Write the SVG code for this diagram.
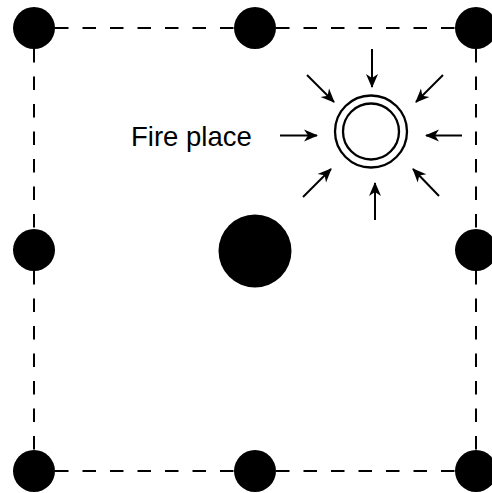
<svg xmlns="http://www.w3.org/2000/svg" width="492" height="493" viewBox="0 0 492 493">
  <style>
    .post { fill: #000; }
    .dash { stroke: #000; stroke-width: 2; stroke-dasharray: 13.5 14; fill: none; }
    .ring { fill: none; stroke: #000; stroke-width: 2.3; }
    .arrow { stroke: #000; stroke-width: 2; fill: none; marker-end: url(#head); }
    .label { font-family: "Liberation Sans", Arial, sans-serif; font-size: 27.5px; fill: #000; }
  </style>
  <defs>
    <marker id="head" markerUnits="userSpaceOnUse" viewBox="-15 -8 17 16" refX="0" refY="0" markerWidth="17" markerHeight="16" orient="auto">
      <path d="M1,0 L-13,-6 L-9,0 L-13,6 Z" fill="#000"/>
    </marker>
  </defs>
  <rect width="492" height="493" fill="#fff"/>
  <g id="connectors">
    <line class="dash" x1="55" y1="28" x2="234" y2="28"/>
    <line class="dash" x1="276" y1="28" x2="455" y2="28"/>
    <line class="dash" x1="55" y1="471" x2="234" y2="471"/>
    <line class="dash" x1="276" y1="471" x2="455" y2="471"/>
    <line class="dash" x1="34" y1="49" x2="34" y2="229"/>
    <line class="dash" x1="34" y1="271" x2="34" y2="450"/>
    <line class="dash" x1="476" y1="49" x2="476" y2="229"/>
    <line class="dash" x1="476" y1="271" x2="476" y2="450"/>
  </g>
  <g id="post-tl"><circle class="post" cx="34" cy="28" r="21"/></g>
  <g id="post-tm"><circle class="post" cx="255" cy="28" r="21"/></g>
  <g id="post-tr"><circle class="post" cx="476" cy="28" r="21"/></g>
  <g id="post-ml"><circle class="post" cx="34" cy="250" r="21"/></g>
  <g id="post-center"><circle class="post" cx="255" cy="251" r="36.5"/></g>
  <g id="post-mr"><circle class="post" cx="476" cy="250" r="21"/></g>
  <g id="post-bl"><circle class="post" cx="34" cy="471" r="21"/></g>
  <g id="post-bm"><circle class="post" cx="255" cy="471" r="21"/></g>
  <g id="post-br"><circle class="post" cx="476" cy="471" r="21"/></g>
  <g id="fireplace">
    <circle class="ring" cx="371" cy="131.5" r="36"/>
    <circle class="ring" cx="371" cy="131.5" r="28"/>
  </g>
  <g id="arrows">
    <line class="arrow" x1="372" y1="49" x2="372" y2="87"/>
    <line class="arrow" x1="375" y1="220" x2="375" y2="183"/>
    <line class="arrow" x1="280" y1="135.5" x2="317" y2="135.5"/>
    <line class="arrow" x1="462" y1="135.5" x2="426" y2="135.5"/>
    <line class="arrow" x1="307" y1="75" x2="334" y2="102"/>
    <line class="arrow" x1="443" y1="75" x2="416" y2="102"/>
    <line class="arrow" x1="303" y1="197" x2="331" y2="169"/>
    <line class="arrow" x1="439" y1="196" x2="413" y2="169"/>
  </g>
  <g id="label-fireplace">
    <text class="label" x="131" y="146">Fire place</text>
  </g>
</svg>
